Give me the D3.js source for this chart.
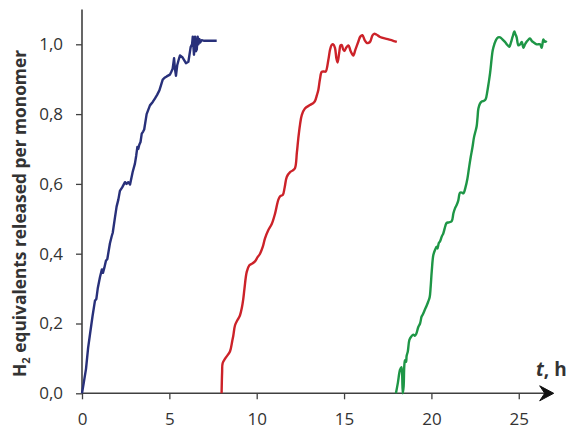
<!DOCTYPE html>
<html>
<head>
<meta charset="utf-8">
<script src="https://cdn.jsdelivr.net/npm/d3@7"></script>
<style>
  body { margin: 0; background: #fff; }
  text { font-family: "Open Sans", "Noto Sans", sans-serif; fill: #333; }
</style>
</head>
<body>
<script>
// three successive dehydrogenation runs, [t in h, H2 equivalents]
var run1 = [[0,0],[0.1,0.03],[0.23,0.07],[0.35,0.13],[0.46,0.17],[0.6,0.22],[0.74,0.265],[0.82,0.27],
  [0.9,0.3],[1.03,0.333],[1.14,0.355],[1.2,0.345],[1.28,0.36],[1.37,0.38],[1.45,0.385],[1.6,0.43],
  [1.7,0.45],[1.76,0.46],[1.89,0.505],[1.98,0.535],[2.08,0.555],[2.17,0.58],[2.3,0.59],[2.46,0.605],
  [2.55,0.6],[2.65,0.605],[2.75,0.598],[2.9,0.634],[3.03,0.658],[3.1,0.68],[3.17,0.706],[3.22,0.7],
  [3.28,0.712],[3.35,0.72],[3.42,0.744],[3.5,0.75],[3.56,0.756],[3.7,0.8],[3.89,0.825],[4.05,0.835],
  [4.18,0.845],[4.3,0.855],[4.43,0.868],[4.62,0.899],[4.75,0.905],[4.85,0.908],[5.03,0.913],[5.1,0.92],
  [5.19,0.93],[5.27,0.96],[5.32,0.93],[5.38,0.91],[5.45,0.94],[5.53,0.955],[5.61,0.968],[5.76,0.962],
  [5.95,0.946],[6.09,0.95],[6.22,0.992],[6.3,1.0],[6.34,1.022],[6.41,0.97],[6.47,1.022],[6.52,0.98],
  [6.57,0.985],[6.62,1.022],[6.66,1.0],[6.72,1.015],[6.76,1.005],[6.85,1.012],[7.0,1.01],[7.71,1.01]];

var run2 = [[7.99,0],[8.02,0.06],[8.05,0.086],[8.2,0.1],[8.47,0.12],[8.6,0.15],[8.66,0.165],[8.76,0.195],
  [8.9,0.21],[9.04,0.223],[9.15,0.245],[9.23,0.27],[9.3,0.3],[9.43,0.348],[9.58,0.367],[9.75,0.372],
  [9.9,0.378],[10.05,0.39],[10.19,0.4],[10.35,0.42],[10.47,0.443],[10.66,0.467],[10.86,0.485],[11.05,0.515],
  [11.24,0.555],[11.35,0.565],[11.49,0.568],[11.6,0.59],[11.72,0.62],[11.91,0.634],[12.05,0.638],[12.19,0.645],
  [12.3,0.69],[12.38,0.73],[12.48,0.77],[12.58,0.797],[12.76,0.816],[13.05,0.826],[13.25,0.832],[13.34,0.838],
  [13.45,0.855],[13.53,0.87],[13.62,0.9],[13.72,0.921],[13.85,0.922],[13.95,0.922],[14.1,0.955],[14.2,0.985],
  [14.29,0.998],[14.38,1.0],[14.48,0.99],[14.56,0.96],[14.63,0.948],[14.72,0.975],[14.8,0.997],[14.87,0.998],
  [14.95,0.985],[15.02,0.981],[15.12,0.99],[15.25,0.997],[15.38,0.98],[15.53,0.968],[15.65,0.985],[15.82,1.008],
  [15.93,1.022],[16.05,1.026],[16.18,1.012],[16.3,1.004],[16.4,1.004],[16.5,1.008],[16.62,1.025],[16.72,1.03],
  [16.85,1.028],[17.06,1.021],[17.5,1.015],[18.02,1.007]];

var run3 = [[17.97,0],[18.08,0.03],[18.2,0.067],[18.28,0.075],[18.32,0.06],[18.36,0],[18.41,0.02],[18.45,0.08],
  [18.49,0.095],[18.55,0.09],[18.58,0.107],[18.65,0.12],[18.74,0.153],[18.85,0.163],[18.97,0.168],[19.05,0.165],
  [19.13,0.17],[19.25,0.19],[19.35,0.2],[19.44,0.22],[19.5,0.225],[19.63,0.24],[19.72,0.25],[19.82,0.263],
  [19.9,0.275],[19.95,0.3],[20.02,0.35],[20.11,0.396],[20.2,0.41],[20.3,0.42],[20.35,0.415],[20.42,0.43],
  [20.49,0.435],[20.6,0.45],[20.68,0.458],[20.8,0.48],[20.87,0.488],[21.0,0.49],[21.16,0.493],[21.26,0.516],
  [21.35,0.53],[21.45,0.54],[21.54,0.553],[21.64,0.575],[21.75,0.575],[21.83,0.573],[21.95,0.59],[22.06,0.615],
  [22.15,0.645],[22.25,0.677],[22.35,0.705],[22.44,0.734],[22.52,0.75],[22.59,0.765],[22.64,0.79],[22.69,0.816],
  [22.78,0.83],[22.88,0.836],[23.0,0.838],[23.1,0.842],[23.2,0.865],[23.28,0.89],[23.36,0.918],[23.45,0.96],
  [23.51,0.983],[23.6,1.0],[23.7,1.013],[23.82,1.02],[23.93,1.02],[24.05,1.015],[24.21,1.007],[24.35,0.998],
  [24.46,0.993],[24.55,1.005],[24.65,1.022],[24.75,1.037],[24.8,1.03],[24.88,1.02],[24.98,0.997],[25.08,1.0],
  [25.17,1.007],[25.27,0.99],[25.36,1.0],[25.46,1.008],[25.55,1.013],[25.64,1.017],[25.74,1.01],[25.84,1.006],
  [26.03,1.0],[26.22,1.0],[26.31,0.99],[26.37,1.005],[26.41,1.014],[26.5,1.007],[26.6,1.01]];

var xTicks = [0, 5, 10, 15, 20, 25];
var yTicks = [0, 0.2, 0.4, 0.6, 0.8, 1.0];

var width = 572, height = 427;

var svg = d3.select('body')
    .append('svg')
    .attr('width', width)
    .attr('height', height);

var x = d3.scaleLinear().domain([0, 27]).range([82, 553.7]);
var y = d3.scaleLinear().domain([0, 1.1]).range([393.3, 9.4]);

var axisColor = '#404040';

// y axis
var yAxis = svg.append('g')
    .attr('transform', 'translate(' + x(0) + ',0)')
    .call(d3.axisLeft(y).tickValues(yTicks).tickSize(6).tickPadding(13)
        .tickFormat(function(d) { return d3.format('.1f')(d).replace('.', ','); }));
yAxis.select('.domain').attr('d', 'M0,' + y(1.1) + 'V' + y(0))
    .attr('stroke', axisColor).attr('stroke-width', 1.6);
yAxis.selectAll('.tick line').attr('stroke', axisColor).attr('stroke-width', 1.3);
yAxis.selectAll('.tick text')
    .style('font-size', '17px')
    .attr('fill', '#333');

// x axis
var xAxis = svg.append('g')
    .attr('transform', 'translate(0,' + y(0) + ')')
    .call(d3.axisBottom(x).tickValues(xTicks).tickSize(6).tickPadding(14));
xAxis.select('.domain').attr('d', 'M' + x(0) + ',0H' + (x(27) - 4))
    .attr('stroke', axisColor).attr('stroke-width', 1.6);
xAxis.selectAll('.tick line').attr('stroke', axisColor).attr('stroke-width', 1.3);
xAxis.selectAll('.tick text')
    .style('font-size', '17px')
    .attr('fill', '#333');

// arrow head at the end of the time axis
var ax = x(27), ay = y(0);
svg.append('path')
    .attr('d', 'M' + ax + ',' + ay + 'L' + (ax - 14) + ',' + (ay - 7.5) +
        'L' + (ax - 9) + ',' + ay + 'L' + (ax - 14) + ',' + (ay + 7.5) + 'Z')
    .attr('fill', '#111')
    .attr('stroke', '#111')
    .attr('stroke-width', 1)
    .attr('stroke-linejoin', 'round');

var line = d3.line()
    .x(function(d) { return x(d[0]); })
    .y(function(d) { return y(d[1]); });

var runs = [
    { data: run1, color: '#28307a', curve: d3.curveLinear },
    { data: run2, color: '#cc2229', curve: d3.curveCatmullRom },
    { data: run3, color: '#1e9646', curve: d3.curveCatmullRom }
];

runs.forEach(function(r) {
    svg.append('path')
        .datum(r.data)
        .attr('d', line.curve(r.curve))
        .attr('fill', 'none')
        .attr('stroke', r.color)
        .attr('stroke-width', 2.4)
        .attr('stroke-linejoin', 'round');
});

// axis titles
var yTitle = svg.append('text')
    .attr('transform', 'translate(26,213.5) rotate(-90)')
    .attr('text-anchor', 'middle')
    .attr('textLength', 327)
    .attr('lengthAdjust', 'spacingAndGlyphs')
    .style('font-size', '17px')
    .style('font-weight', 'bold')
    .attr('fill', '#222');
yTitle.append('tspan').text('H');
yTitle.append('tspan').attr('dy', 4).style('font-size', '11px').text('2');
yTitle.append('tspan').attr('dy', -4).text(' equivalents released per monomer');

var tTitle = svg.append('text')
    .attr('x', 536)
    .attr('y', 376)
    .style('font-size', '19px')
    .style('font-weight', 'bold')
    .attr('fill', '#111');
tTitle.append('tspan').style('font-style', 'italic').text('t');
tTitle.append('tspan').text(', h');
</script>
</body>
</html>
